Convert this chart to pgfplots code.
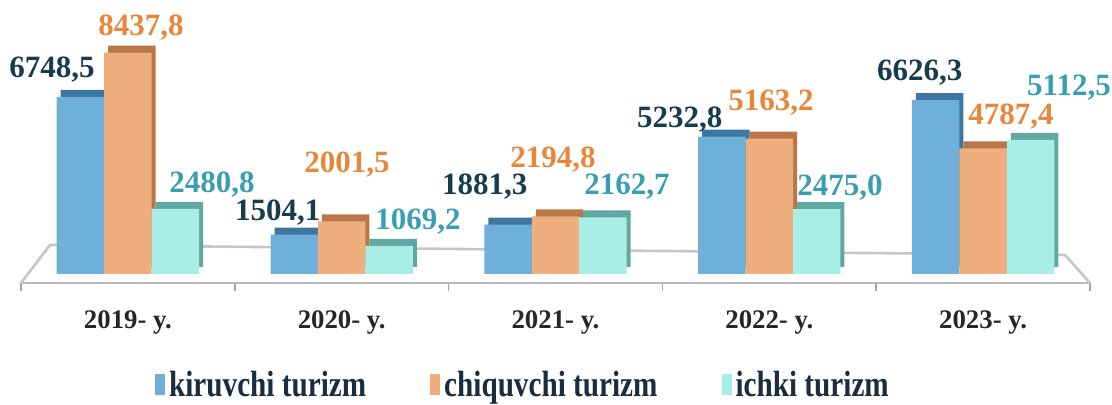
\documentclass[border=0pt]{standalone}
\usepackage{graphicx}
\usepackage{fontspec}
\setmainfont{Liberation Serif}
\usepackage{pgfplots}
\usepackage{pgfplotstable}
\pgfplotsset{compat=1.18}

\definecolor{kblue}{RGB}{110,176,218}
\definecolor{kblueD}{RGB}{62,118,162}
\definecolor{corange}{RGB}{239,174,126}
\definecolor{corangeD}{RGB}{186,118,70}
\definecolor{icyan}{RGB}{166,238,230}
\definecolor{icyanD}{RGB}{98,168,162}
\definecolor{klab}{RGB}{22,60,78}
\definecolor{clab}{RGB}{232,135,58}
\definecolor{ilab}{RGB}{58,158,178}
\definecolor{legtext}{RGB}{25,45,62}

\pgfplotstableread{
x y dx dy lab
0 6748.5 -37.95 13.6 6748,5
1 1504.1 -31.95 10.8 1504,1
2 1881.3 -35.35 18.9 1881,3
3 5232.8 -44.75 8.5 5232,8
4 6626.3 -31.65 13.7 6626,3
}\kdata
\pgfplotstableread{
x y dx dy lab
0 8437.8 6.5 12.5 8437,8
1 2001.5 2.6 28.3 2001,5
2 2194.8 -1.3 28.3 2194,8
3 5163.2 0.8 17.9 5163,2
4 4787.4 13.9 15.8 4787,4
}\cdata
\pgfplotstableread{
x y dx dy lab
0 2480.8 42.05 12.0 2480,8
1 1069.2 38.15 12.0 1069,2
2 2162.7 35.75 15.2 2162,7
3 2475.0 35.35 10.6 2475,0
4 5112.5 42.95 26.1 5112,5
}\idata

\begin{document}
\begin{tikzpicture}
\useasboundingbox (-10.5pt,-61pt) rectangle (545.5pt,141.5pt);
\begin{axis}[
  at={(0,0)}, anchor=south west,
  scale only axis,
  width=534.5pt, height=137pt,
  xmin=-0.5, xmax=4.5,
  ymin=-343, ymax=10100,
  clip=false,
  axis x line*=bottom,
  axis y line=none,
  x axis line style={draw=gray!55, line width=1.3pt, -},
  xtick={0,1,2,3,4},
  xticklabels={2019- y.,2020- y.,2021- y.,2022- y.,2023- y.},
  major x tick style={draw=none},
  minor xtick={-0.5,0.5,1.5,2.5,3.5,4.5},
  minor tick length=4pt,
  minor x tick style={draw=gray!70, line width=0.8pt},
  tick align=outside,
  xticklabel style={anchor=center, yshift=-15.5pt, font=\bfseries\fontsize{13.4}{14}\selectfont, text=black!85},
  legend columns=3,
  legend style={at={(0.4705,-0.372)}, anchor=center, draw=none, fill=none,
    font=\bfseries\fontsize{14.6}{15}\selectfont, text=legtext,
    /tikz/every even column/.append style={column sep=30pt}},
  myleg/.style={legend image code/.code={\fill[##1] (0pt,-5pt) rectangle (5pt,5.5pt);}},
  lab/.style={nodes near coords, point meta=explicit symbolic,
    visualization depends on={\thisrow{dx}\as\dx},
    visualization depends on={\thisrow{dy}\as\dy},
    every node near coord/.append style={anchor=center, xshift=\dx pt, yshift=\dy pt,
      font=\bfseries\fontsize{15.5}{16}\selectfont, text=#1}},
]
% floor
\draw[gray!45, line width=1.3pt] (axis cs:-0.5,-343) -- (axis cs:-0.364,1107) -- (axis cs:4.383,725) -- (axis cs:4.5,-343);
% depth (back faces)
\addplot[ybar, bar width=0.222, bar shift=-0.222, fill=kblueD, draw=none, xshift=2pt, yshift=3.5pt, forget plot] table[x=x,y=y] {\kdata};
\addplot[ybar, bar width=0.222, bar shift=0, fill=corangeD, draw=none, xshift=2pt, yshift=3.5pt, forget plot] table[x=x,y=y] {\cdata};
\addplot[ybar, bar width=0.222, bar shift=0.222, fill=icyanD, draw=none, xshift=2pt, yshift=3.5pt, forget plot] table[x=x,y=y] {\idata};
% front faces
\addplot[ybar, bar width=0.222, bar shift=-0.222, fill=kblue, draw=none, myleg, lab=klab] table[x=x,y=y,meta=lab] {\kdata};
\addplot[ybar, bar width=0.222, bar shift=0, fill=corange, draw=none, myleg, lab=clab] table[x=x,y=y,meta=lab] {\cdata};
\addplot[ybar, bar width=0.222, bar shift=0.222, fill=icyan, draw=none, myleg, lab=ilab] table[x=x,y=y,meta=lab] {\idata};
\legend{\scalebox{1}[1.25]{kiruvchi turizm},\scalebox{1}[1.25]{chiquvchi turizm},\scalebox{1}[1.25]{ichki turizm}}
\end{axis}
\end{tikzpicture}
\end{document}
